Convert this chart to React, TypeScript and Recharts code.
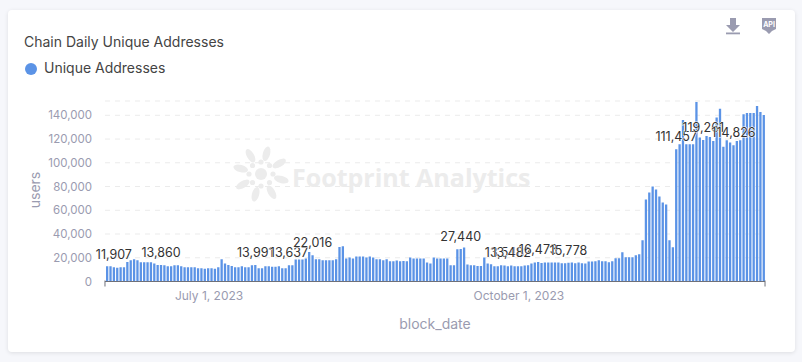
import React from "react";
import { BarChart, Bar, XAxis, YAxis, CartesianGrid, LabelList, Legend } from "recharts";

const months: [string, number, number][] = [
  ["05", 31, 31], ["06", 1, 30], ["07", 1, 31], ["08", 1, 31], ["09", 1, 30], ["10", 1, 31], ["11", 1, 30], ["12", 1, 12],
];
const dates: string[] = [];
for (const [m, from, to] of months) {
  for (let d = from; d <= to; d++) dates.push(`2023-${m}-${String(d).padStart(2, "0")}`);
}

const users = [
  12880, 12880, 11907, 11600, 12040, 12040, 16520, 17920, 18760, 17920, 16240, 16240, 16240, 16240, 15120, 14000,
  13860, 13720, 12880, 12880, 13720, 13720, 12880, 12040, 12040, 12040, 12040, 11200, 11200, 10640, 11200, 11200,
  10640, 12040, 18760, 15120, 14000, 13160, 12040, 12040, 12880, 12040, 12040, 13720, 13991, 11200, 11200, 12880,
  12880, 12320, 12320, 12880, 11200, 11200, 13637, 13720, 18480, 18480, 18480, 19320, 24920, 22016, 18760, 18760,
  17920, 17920, 17920, 17920, 18760, 29120, 29680, 19320, 20160, 19320, 21000, 21000, 21000, 20160, 21000, 20160,
  18760, 18760, 17920, 18760, 17080, 17080, 17640, 17080, 17360, 17080, 20160, 19320, 19320, 19320, 19320, 15960,
  15120, 20160, 19320, 19320, 19320, 19320, 13720, 13720, 27160, 27440, 28560, 14280, 13720, 13720, 13160, 13160,
  20160, 15120, 14560, 12880, 12880, 13720, 13548, 12880, 13482, 12880, 12880, 12880, 13440, 13720, 15120, 15960,
  16473, 15680, 15960, 15960, 15960, 15960, 15960, 15400, 15400, 15778, 15960, 15400, 15960, 15400, 15120, 16800,
  16800, 17080, 17920, 17080, 17080, 16240, 17080, 19600, 19600, 24640, 20440, 20440, 20440, 22120, 22960, 34720,
  69160, 75040, 80080, 77560, 71680, 66640, 64960, 34720, 28840, 111457, 115640, 136080, 115640, 115640, 115640, 151200,
  121240, 119261, 122640, 121800, 118440, 138040, 145600, 113400, 119000, 117040, 114826, 118440, 119000, 140840, 141960, 141960,
  141960, 147840, 142800, 140280,
];

const labelledValues = [11907, 13860, 13991, 13637, 22016, 27440, 13548, 13482, 16473, 15778, 111457, 119261, 114826];
const yTicks = [0, 20000, 40000, 60000, 80000, 100000, 120000, 140000];
const xTickLabels: Record<string, string> = { "2023-07-01": "July 1, 2023", "2023-10-01": "October 1, 2023" };
const xTicks = ["2023-05-31", "2023-07-01", "2023-10-01", "2023-12-12"];

const data = dates.map((d, i) => ({ date: d, users: users[i] }));

const FONT = "Inter, sans-serif";
const BLUE = "#5b93e6";
const AXIS = "#9a9bb0";

const XTick = (props: any) => {
  const { x, y, payload } = props;
  const text = xTickLabels[payload.value];
  if (!text) {
    const dx = payload.value === "2023-05-31" ? -1.7 : 1.7;
    return <line x1={x + dx} x2={x + dx} y1={y - 9} y2={y - 3} stroke="#6e7079" strokeWidth={1} />;
  }
  return (
    <text x={x - 2} y={y + 10} textAnchor="middle" fontSize={12} fontFamily={FONT} fill={AXIS}>
      {text}
    </text>
  );
};

const PointLabel = (props: any) => {
  const { x, y, width, value } = props;
  if (!labelledValues.includes(value)) return null;
  return (
    <text
      x={x + width / 2}
      y={y - 8}
      textAnchor="middle"
      fontSize={12.5}
      fontFamily={FONT}
      fill="#333333"
      stroke="#ffffff"
      strokeWidth={1}
      paintOrder="stroke"
    >
      {value.toLocaleString("en-US")}
    </text>
  );
};

const petals = [0, 45, 90, 135, 180, 225, 270, 315];

export default function App() {
  return (
    <div style={{ position: "absolute", left: 0, top: 0, width: 802, height: 362, background: "#f6f7fb", overflow: "hidden" }}>
      <div
        style={{
          position: "absolute", left: 8, top: 10, width: 787, height: 342, background: "#fff", borderRadius: 4,
          boxShadow: "0 1px 4px rgba(0,0,0,0.10)",
        }}
      />
      <svg width={802} height={362} style={{ position: "absolute", left: 0, top: 0 }}>
        <g transform="translate(261,174)" fill="#ececec">
          <circle r={6} />
          {petals.map((a) => (
            <circle key={a} r={2.6} cx={12 * Math.cos((a * Math.PI) / 180)} cy={12 * Math.sin((a * Math.PI) / 180)} />
          ))}
          {[20, 65, 110, 155, 200, 245, 290, 335].map((a) => (
            <ellipse key={a} cx={21} cy={0} rx={7.5} ry={3.6} transform={`rotate(${a + 40})`} />
          ))}
        </g>
        <text x={292} y={187} fontSize={25} fontWeight={700} fontFamily="'Open Sans', sans-serif" fill="#ececec">
          Footprint Analytics
        </text>
        <g fill="#9a9bb0">
          <path d="M730 18h6v7h4l-7 7-7-7h4z" />
          <rect x={726} y={32.5} width={14} height={1.8} />
          <path d="M762 18h14v11l-4 2-3 3-3-3-4-2z" />
        </g>
        <text x={769} y={27} textAnchor="middle" fontSize={7} fontWeight={700} fontFamily={FONT} fill="#fff">
          API
        </text>
      </svg>
      <div
        style={{
          position: "absolute", left: 24, top: 33, fontFamily: FONT, fontSize: 14, lineHeight: "17px", color: "#444444",
          whiteSpace: "nowrap",
        }}
      >
        Chain Daily Unique Addresses
      </div>
      <div style={{ position: "absolute", left: 0, top: 0 }}>
        <BarChart
          width={802}
          height={362}
          data={data}
          margin={{ top: 84, right: 37, bottom: 50, left: 0 }}
          barSize={2.3}
          style={{ background: "transparent" }}
        >
          <CartesianGrid horizontal vertical={false} stroke="#ebebeb" strokeDasharray="5 5" />
          <XAxis
            dataKey="date"
            ticks={xTicks}
            interval={0}
            height={30.5}
            tick={<XTick />}
            tickLine={false}
            axisLine={{ stroke: "#6e7079" }}
            label={{ value: "block_date", position: "insideBottom", dy: 22, dx: 0, fontSize: 14, fontFamily: FONT, fill: AXIS }}
          />
          <YAxis
            width={105}
            domain={[0, 152040]}
            allowDataOverflow
            ticks={yTicks}
            tickLine={false}
            axisLine={false}
            tickMargin={7}
            tickFormatter={(v: number) => v.toLocaleString("en-US")}
            tick={{ fontSize: 11.5, fontFamily: FONT, fill: AXIS }}
            label={{ value: "users", angle: -90, position: "insideLeft", dx: 30, dy: 17, fontSize: 14, fontFamily: FONT, fill: AXIS }}
          />
          <Legend
            verticalAlign="top"
            align="left"
            iconType="circle"
            iconSize={12}
            wrapperStyle={{ position: "absolute", left: 25, top: 59, width: 200, fontFamily: FONT, fontSize: 14 }}
            formatter={(v: string) => <span style={{ color: "#444444", marginLeft: 3 }}>{v}</span>}
          />
          <Bar dataKey="users" name="Unique Addresses" fill={BLUE} isAnimationActive={false}>
            <LabelList dataKey="users" content={<PointLabel />} />
          </Bar>
        </BarChart>
      </div>
    </div>
  );
}
